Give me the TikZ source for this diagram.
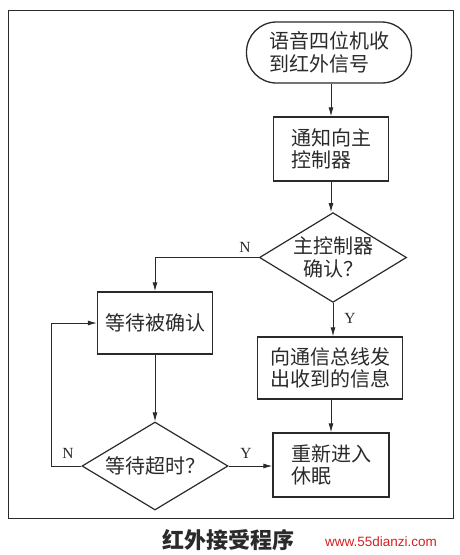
\documentclass[tikz,border=0pt]{standalone}
\usepackage{fontspec}
\setmainfont{Liberation Serif}
\newfontfamily\cjk{Noto Sans CJK SC}
\newfontfamily\wmfont{Liberation Sans}
\usetikzlibrary{shapes.geometric,arrows.meta}
\definecolor{ink}{HTML}{2A2A2A}
\definecolor{wmred}{HTML}{D42020}
\begin{document}
\begin{tikzpicture}[x=1pt,y=-1pt,
  every node/.style={text=ink},
  txt/.style={font=\cjk\fontsize{20}{22.5}\selectfont},
  stepbox/.style={txt,draw=ink,line width=1.3pt,minimum height=63pt,inner sep=0pt,align=left},
  termbox/.style={stepbox,rounded corners=30pt,minimum height=61pt},
  decbox/.style={txt,diamond,draw=ink,line width=1.2pt,aspect=1.64,inner sep=0pt,
                 minimum width=145pt,minimum height=89pt,align=center},
  flow/.style={draw=ink,line width=0.9pt,-{Latex[length=9pt,width=5pt]}},
  lbl/.style={font=\fontsize{15.5}{15.5}\selectfont}
]
\useasboundingbox (0,0) rectangle (459,555);
\draw[ink,line width=0.9pt] (8,10) rectangle (453,518);

\node[termbox,minimum width=165pt] (start) at (329,52.5) {语音四位机收\\到红外信号};
\node[stepbox,minimum width=115pt,minimum height=64pt] (notify) at (331,149) {通知向主\\控制器};
\node[decbox] (d1) at (333,257.5) {主控制器\\确认？};
\node[stepbox,minimum width=115pt,minimum height=62pt] (wait) at (155,323) {等待被确认};
\node[stepbox,minimum width=145pt,minimum height=62pt] (send) at (330,368) {向通信总线发\\出收到的信息};
\node[stepbox,minimum width=116pt,minimum height=64pt] (sleep) at (331,465) {重新进入\\休眠};
\node[decbox,minimum width=146pt,minimum height=88pt] (d2) at (155,466) {等待超时？};
\coordinate (lp) at (51,466);

\draw[flow] (start.south -| notify.north) -- (notify.north);
\draw[flow] (notify.south) -- (notify.south |- d1.north);
\draw[flow] (d1.south) -- (d1.south |- send.north);
\draw[flow] (send.south -| sleep.north) -- (sleep.north);
\draw[flow] (d1.west) -| (wait.north);
\draw[flow] (wait.south) -- (d2.north);
\draw[flow] (d2.east) -- (d2.east -| sleep.west);
\draw[flow] (d2.west) -- (lp) |- (wait.west);

\node[lbl] (n1) at (245,247) {N};
\node[lbl] (y1) at (350,318) {Y};
\node[lbl] (n2) at (68,453) {N};
\node[lbl] (y2) at (246,453) {Y};

\node[font=\cjk\bfseries\fontsize{22}{22}\selectfont,anchor=west,inner sep=0pt] (cap) at (162,540) {红外接受程序};
\node[font=\wmfont\fontsize{13.5}{13.5}\selectfont,text=wmred,inner sep=1pt,anchor=west] (wm) at (324,542) {www.55dianzi.com};
\end{tikzpicture}
\end{document}
